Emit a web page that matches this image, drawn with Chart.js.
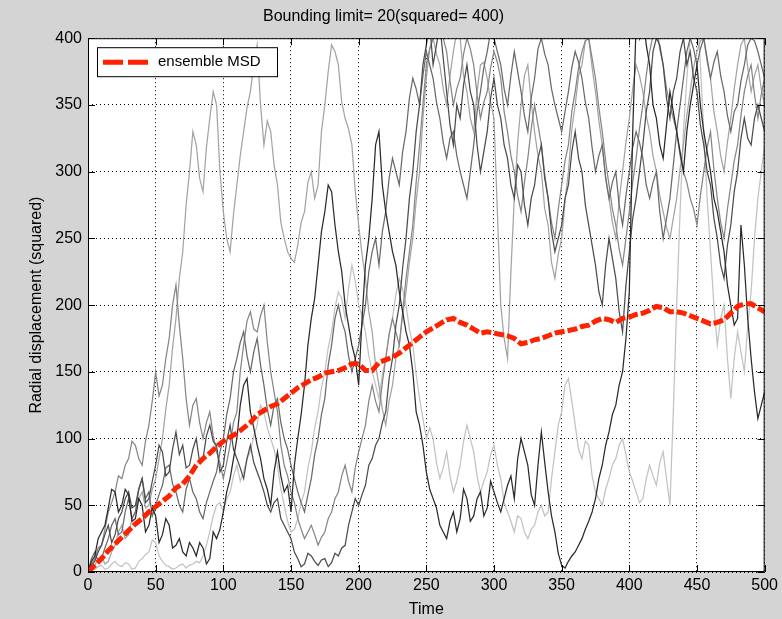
<!DOCTYPE html>
<html>
<head>
<meta charset="utf-8">
<script src="https://cdn.jsdelivr.net/npm/chart.js@4.4.0/dist/chart.umd.min.js"></script>
<style>
  html, body { margin: 0; padding: 0; background: #d4d4d4; }
</style>
</head>
<body>
<canvas id="myChart" width="782" height="619"></canvas>
<script>
var time = [0, 2.5, 5, 7.5, 10, 12.5, 15, 17.5, 20, 22.5, 25, 27.5, 30, 32.5, 35, 37.5, 40, 42.5, 45, 47.5,
  50, 52.5, 55, 57.5, 60, 62.5, 65, 67.5, 70, 72.5, 75, 77.5, 80, 82.5, 85, 87.5, 90, 92.5, 95, 97.5,
  100, 102.5, 105, 107.5, 110, 112.5, 115, 117.5, 120, 122.5, 125, 127.5, 130, 132.5, 135, 137.5, 140, 142.5, 145, 147.5,
  150, 152.5, 155, 157.5, 160, 162.5, 165, 167.5, 170, 172.5, 175, 177.5, 180, 182.5, 185, 187.5, 190, 192.5, 195, 197.5,
  200, 202.5, 205, 207.5, 210, 212.5, 215, 217.5, 220, 222.5, 225, 227.5, 230, 232.5, 235, 237.5, 240, 242.5, 245, 247.5,
  250, 252.5, 255, 257.5, 260, 262.5, 265, 267.5, 270, 272.5, 275, 277.5, 280, 282.5, 285, 287.5, 290, 292.5, 295, 297.5,
  300, 302.5, 305, 307.5, 310, 312.5, 315, 317.5, 320, 322.5, 325, 327.5, 330, 332.5, 335, 337.5, 340, 342.5, 345, 347.5,
  350, 352.5, 355, 357.5, 360, 362.5, 365, 367.5, 370, 372.5, 375, 377.5, 380, 382.5, 385, 387.5, 390, 392.5, 395, 397.5,
  400, 402.5, 405, 407.5, 410, 412.5, 415, 417.5, 420, 422.5, 425, 427.5, 430, 432.5, 435, 437.5, 440, 442.5, 445, 447.5,
  450, 452.5, 455, 457.5, 460, 462.5, 465, 467.5, 470, 472.5, 475, 477.5, 480, 482.5, 485, 487.5, 490, 492.5, 495, 497.5, 500];

// ensemble mean squared displacement, one value per 5 time units
var msd = [0,
  5, 10, 16, 21, 26, 31, 36, 40, 45, 49,
  53, 57, 63, 66, 72, 80, 85, 89, 94, 98,
  101, 104, 108, 112, 118, 121, 124, 126, 130, 134,
  138, 141, 144, 146, 149, 150, 151, 153, 156, 156,
  151, 151, 157, 159, 161, 164, 168, 172, 176, 180,
  183, 186, 189, 190, 187, 185, 182, 179, 180, 179,
  178, 177, 175, 171, 172, 174, 175, 177, 179, 180,
  181, 182, 184, 185, 188, 190, 189, 187, 190, 191,
  193, 194, 196, 199, 198, 195, 195, 194, 192, 190,
  188, 186, 187, 189, 194, 199, 201, 201, 198, 195];

// single walkers, squared radial displacement
var walk1 = [0, 8, 12, 25, 30, 35, 48, 62, 60, 45, 50, 62, 58, 38, 40, 55, 50, 30, 35, 48, 42,
  22, 28, 40, 35, 18, 20, 25, 15, 12, 22, 18, 12, 22, 18, 6, 10, 30, 25, 32, 45,
  60, 70, 85, 100, 125, 140, 145, 120, 108, 95, 85, 70, 62, 50, 75, 90, 72, 60, 65, 45,
  80, 100, 118, 140, 170, 190, 205, 230, 255, 270, 290, 285, 260, 240, 225, 200, 185, 170, 160, 140,
  190, 230, 250, 280, 320, 330, 290, 270, 255, 240, 230, 210, 195, 180, 170, 150, 120, 110, 95, 75,
  62, 55, 48, 35, 30, 25, 38, 45, 30, 40, 62, 55, 38, 42, 55, 60, 42, 48, 68, 60,
  52, 45, 55, 65, 72, 55, 85, 100, 90, 80, 58, 50, 80, 105, 82, 60, 42, 30, 14, 5,
  3, 8, 12, 15, 20, 25, 32, 38, 45, 55, 70, 80, 95, 105, 118, 125, 140, 150, 175, 210,
  330, 410, 400, 420, 395, 380, 350, 340, 320, 310, 335, 360, 345, 330, 315, 300, 330, 350, 365, 380,
  350, 330, 315, 300, 280, 270, 255, 240, 215, 200, 185, 190, 260, 230, 190, 160, 135, 115, 125, 135];

var walk2 = [0, 5, 8, 15, 20, 28, 35, 22, 28, 40, 45, 55, 60, 48, 50, 62, 70, 52, 55, 68, 80,
  95, 90, 72, 75, 92, 105, 88, 95, 78, 80, 92, 100, 82, 85, 102, 110, 98, 95, 75, 80,
  98, 110, 92, 85, 78, 70, 85, 95, 82, 75, 68, 60, 50, 45, 52, 55, 40, 35, 30, 25,
  15, 10, 4, 6, 14, 12, 8, 5, 9, 10, 4, 7, 14, 12, 18, 20, 35, 45, 55, 50,
  58, 65, 80, 85, 95, 100, 112, 120, 145, 160, 185, 200, 228, 250, 280, 300, 330, 350, 380, 395,
  410, 380, 395, 410, 385, 360, 335, 320, 350, 340, 365, 380, 360, 350, 320, 300, 315, 330, 355, 370,
  350, 340, 320, 310, 290, 280, 305, 300, 275, 260, 280, 290, 310, 320, 295, 280, 255, 240, 250, 260,
  280, 290, 315, 330, 310, 300, 275, 260, 245, 230, 210, 200, 230, 250, 235, 220, 195, 180, 215, 240,
  265, 280, 300, 320, 345, 360, 390, 400, 395, 380, 355, 340, 360, 370, 390, 400, 380, 390, 370, 360,
  335, 320, 300, 290, 265, 250, 230, 220, 245, 260, 285, 300, 325, 340, 325, 320, 340, 350, 340, 330];

var walk3 = [0, 10, 15, 8, 10, 18, 25, 35, 40, 28, 30, 45, 55, 40, 45, 62, 70, 55, 60, 42, 50,
  58, 65, 78, 80, 66, 60, 50, 45, 62, 70, 60, 55, 45, 40, 52, 60, 68, 75, 90, 100,
  118, 130, 150, 160, 172, 180, 162, 150, 165, 175, 155, 140, 122, 110, 125, 130, 112, 100, 92, 80,
  70, 60, 52, 45, 58, 70, 88, 100, 118, 130, 155, 170, 190, 200, 188, 180, 162, 150, 160, 170,
  185, 200, 225, 240, 250, 230, 255, 270, 295, 310, 300, 290, 315, 330, 355, 370, 362, 350, 372, 390,
  380, 370, 352, 340, 322, 310, 325, 330, 312, 300, 290, 280, 300, 320, 345, 360, 378, 390, 405, 400,
  390, 380, 362, 350, 372, 390, 375, 360, 342, 330, 355, 370, 392, 400, 388, 380, 362, 350, 340, 330,
  345, 360, 378, 390, 382, 370, 352, 340, 318, 300, 312, 320, 295, 280, 292, 300, 275, 260, 282, 300,
  318, 330, 322, 310, 290, 280, 292, 300, 270, 250, 265, 280, 305, 330, 350, 370, 390, 400, 392, 380,
  392, 400, 385, 370, 382, 390, 372, 360, 342, 330, 345, 350, 368, 380, 395, 400, 398, 390, 380, 370];

var walk4 = [0, 6, 10, 18, 20, 32, 45, 52, 60, 72, 70, 80, 85, 98, 95, 85, 80, 98, 110, 128, 150,
  132, 140, 160, 175, 200, 215, 185, 160, 130, 110, 125, 130, 112, 100, 112, 120, 102, 90, 82, 70,
  82, 95, 112, 120, 150, 170, 188, 195, 182, 180, 192, 200, 172, 150, 135, 120, 95, 80, 72, 60,
  52, 40, 32, 25, 30, 35, 28, 20, 26, 30, 40, 45, 55, 60, 72, 80, 68, 60, 78, 90,
  100, 110, 128, 140, 128, 120, 142, 160, 178, 190, 180, 170, 195, 220, 240, 260, 292, 320, 350, 380,
  392, 400, 412, 420, 400, 390, 368, 350, 362, 370, 388, 400, 392, 380, 358, 340, 352, 360, 378, 390,
  382, 370, 345, 330, 312, 300, 282, 270, 292, 310, 332, 350, 335, 320, 298, 280, 262, 250, 272, 290,
  308, 320, 345, 360, 378, 390, 398, 400, 385, 370, 348, 330, 308, 290, 272, 260, 242, 230, 250, 270,
  292, 310, 332, 350, 372, 390, 402, 410, 392, 380, 362, 350, 340, 330, 312, 300, 292, 280, 272, 260,
  282, 300, 318, 330, 302, 280, 262, 250, 272, 290, 308, 320, 342, 360, 372, 380, 358, 340, 358, 370];

var walk5 = [0, 3, 5, 10, 12, 6, 8, 15, 20, 30, 35, 25, 28, 40, 45, 55, 60, 48, 50, 62, 70,
  85, 100, 122, 140, 168, 190, 220, 240, 275, 300, 330, 320, 295, 285, 318, 340, 360, 350, 300, 270,
  250, 240, 268, 290, 312, 330, 348, 360, 380, 395, 350, 320, 338, 330, 305, 290, 262, 250, 240, 235,
  232, 245, 262, 270, 292, 300, 280, 290, 330, 350, 375, 395, 390, 380, 352, 340, 332, 320, 285, 260,
  238, 220, 195, 180, 155, 140, 122, 110, 128, 140, 160, 170, 192, 210, 232, 250, 278, 300, 340, 370,
  392, 400, 388, 380, 362, 350, 372, 390, 405, 400, 372, 360, 340, 330, 360, 380, 382, 370, 352, 340,
  270, 200, 175, 160, 225, 280, 322, 350, 372, 380, 352, 330, 312, 300, 272, 260, 232, 220, 238, 250,
  278, 300, 332, 350, 372, 380, 398, 400, 378, 360, 338, 320, 296, 280, 262, 250, 278, 300, 322, 340,
  362, 380, 372, 360, 342, 330, 312, 300, 282, 270, 258, 250, 265, 280, 302, 320, 342, 360, 378, 390,
  398, 400, 382, 370, 345, 330, 312, 300, 322, 340, 362, 380, 395, 400, 378, 360, 372, 380, 362, 350];

var walk6 = [0, 1, 2, 4, 5, 2, 3, 6, 8, 5, 4, 7, 6, 2, 3, 8, 10, 13, 15, 24, 22,
  12, 8, 5, 4, 2, 3, 5, 6, 3, 5, 6, 8, 7, 12, 20, 30, 42, 50, 52, 45,
  55, 60, 72, 80, 68, 75, 85, 90, 102, 110, 125, 120, 108, 100, 92, 80, 62, 50, 38, 30,
  32, 40, 52, 60, 78, 90, 108, 120, 138, 150, 168, 180, 198, 210, 205, 190, 212, 230, 218, 200,
  192, 180, 162, 150, 140, 130, 148, 160, 178, 190, 208, 220, 212, 200, 182, 170, 148, 130, 115, 100,
  108, 100, 82, 70, 78, 90, 72, 60, 68, 80, 98, 110, 100, 90, 72, 60, 68, 75, 88, 95,
  80, 70, 52, 45, 38, 30, 42, 40, 30, 25, 32, 35, 45, 50, 42, 45, 70, 90, 110, 120,
  140, 145, 128, 110, 92, 85, 98, 95, 72, 60, 55, 50, 62, 70, 80, 85, 95, 100, 88, 75,
  68, 60, 52, 55, 70, 80, 72, 65, 82, 90, 70, 50, 120, 200, 270, 330, 370, 400, 410, 420,
  380, 330, 280, 240, 200, 170, 190, 200, 160, 130, 160, 180, 165, 150, 185, 210, 250, 280, 300, 320];

var walks = [walk1, walk2, walk3, walk4, walk5, walk6];
var walkColors = ['#2a2a2a', '#4c4c4c', '#6a6a6a', '#868686', '#a4a4a4', '#c2c2c2'];

var titleText = 'Bounding limit= 20(squared= 400)';
var fontFamily = '"Liberation Sans", Arial, sans-serif';

Chart.defaults.font.family = fontFamily;
Chart.defaults.color = '#000';

function points(values, stride) {
  return values.map(function (v, i) { return { x: time[i * stride], y: v }; });
}

var datasets = [{
  label: 'ensemble MSD',
  data: points(msd, 2),
  borderColor: '#ff2200',
  borderWidth: 5,
  borderDash: [10, 3],
  pointRadius: 0,
  fill: false
}];
walks.forEach(function (w, i) {
  datasets.push({
    label: 'walk ' + (i + 1),
    data: points(w, 1),
    borderColor: walkColors[i],
    borderWidth: 1.25,
    pointRadius: 0,
    fill: false
  });
});

// grey figure with a white axes patch
var figureBackground = {
  id: 'figureBackground',
  beforeDraw: function (chart) {
    var ctx = chart.ctx, a = chart.chartArea;
    ctx.save();
    ctx.fillStyle = '#d4d4d4';
    ctx.fillRect(0, 0, chart.width, chart.height);
    ctx.fillStyle = '#ffffff';
    ctx.fillRect(a.left, a.top, a.right - a.left, a.bottom - a.top);
    ctx.restore();
  }
};

// box round the axes and tick marks pointing inwards
var axesBox = {
  id: 'axesBox',
  afterDatasetsDraw: function (chart) {
    var ctx = chart.ctx, a = chart.chartArea;
    var xs = chart.scales.x, ys = chart.scales.y;
    ctx.save();
    ctx.strokeStyle = '#000';
    ctx.lineWidth = 1;
    ctx.setLineDash([]);
    ctx.strokeRect(a.left + 0.5, a.top + 0.5, a.right - a.left - 1, a.bottom - a.top - 1);
    ctx.beginPath();
    xs.ticks.forEach(function (t) {
      var px = Math.round(xs.getPixelForValue(t.value)) + 0.5;
      ctx.moveTo(px, a.bottom); ctx.lineTo(px, a.bottom - 7);
      ctx.moveTo(px, a.top); ctx.lineTo(px, a.top + 7);
    });
    ys.ticks.forEach(function (t) {
      var py = Math.round(ys.getPixelForValue(t.value)) + 0.5;
      ctx.moveTo(a.left, py); ctx.lineTo(a.left + 7, py);
      ctx.moveTo(a.right, py); ctx.lineTo(a.right - 7, py);
    });
    ctx.stroke();
    ctx.restore();
  }
};

// legend box inside the top left corner
var msdLegend = {
  id: 'msdLegend',
  afterDraw: function (chart) {
    var ds = chart.data.datasets[0];
    var ctx = chart.ctx, a = chart.chartArea;
    var x = a.left + 9, y = a.top + 9, w = 180, h = 29;
    ctx.save();
    ctx.fillStyle = '#fff';
    ctx.fillRect(x, y, w, h);
    ctx.strokeStyle = '#000';
    ctx.lineWidth = 1;
    ctx.strokeRect(x + 0.5, y + 0.5, w, h);
    ctx.strokeStyle = ds.borderColor;
    ctx.lineWidth = 5;
    ctx.setLineDash([20, 5]);
    ctx.beginPath();
    ctx.moveTo(x + 6, y + 15);
    ctx.lineTo(x + 52, y + 15);
    ctx.stroke();
    ctx.fillStyle = '#000';
    ctx.font = '15px ' + fontFamily;
    ctx.textBaseline = 'middle';
    ctx.fillText(ds.label, x + 61, y + 15);
    ctx.restore();
  }
};

var ctx = document.getElementById('myChart');
var msdChart = new Chart(ctx, {
  type: 'line',
  data: { datasets: datasets },
  options: {
    responsive: false,
    animation: false,
    devicePixelRatio: 1,
    layout: { padding: { left: 0, right: 15, top: 0, bottom: 0 } },
    plugins: {
      legend: { display: false },
      tooltip: { enabled: false },
      title: {
        display: true,
        text: titleText,
        color: '#000',
        font: { size: 16, weight: 'normal' },
        padding: { top: 7, bottom: 12 }
      }
    },
    scales: {
      x: {
        type: 'linear',
        min: 0,
        max: 500,
        ticks: { stepSize: 50, font: { size: 16 }, padding: 4, maxRotation: 0 },
        grid: { color: '#000', drawTicks: false },
        border: { display: false, dash: [1, 3] },
        title: { display: true, text: 'Time', font: { size: 16 }, padding: { top: 0, bottom: 0 } },
        afterFit: function (s) { s.height = 47; }
      },
      y: {
        min: 0,
        max: 400,
        ticks: { stepSize: 50, font: { size: 16 }, padding: 6 },
        grid: { color: '#000', drawTicks: false },
        border: { display: false, dash: [1, 3] },
        title: { display: true, text: 'Radial displacement (squared)', font: { size: 16 }, padding: { top: 27, bottom: 0 } },
        afterFit: function (s) { s.width = 88; }
      }
    }
  },
  plugins: [figureBackground, axesBox, msdLegend]
});
</script>
</body>
</html>
